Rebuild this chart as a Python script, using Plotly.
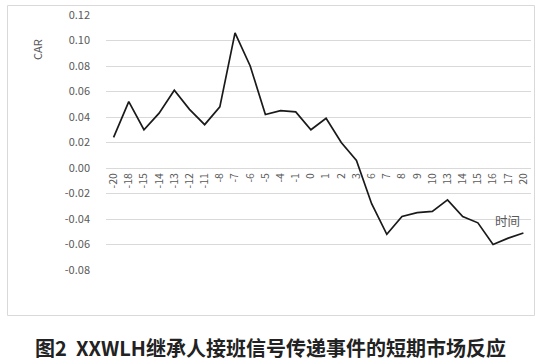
import plotly.graph_objects as go

# ---- data ----
days = ["-20", "-18", "-15", "-14", "-13", "-12", "-11", "-8", "-7", "-6", "-5", "-4", "-1",
        "0", "1", "2", "3", "6", "7", "8", "9", "10", "13", "14", "15", "16", "17", "20"]
car = [0.024, 0.052, 0.030, 0.043, 0.061, 0.046, 0.034, 0.048, 0.106, 0.080, 0.042, 0.045, 0.044,
       0.030, 0.039, 0.020, 0.006, -0.028, -0.052, -0.038, -0.035, -0.034, -0.025, -0.038, -0.043,
       -0.060, -0.055, -0.051]
y_ticks = [0.12, 0.10, 0.08, 0.06, 0.04, 0.02, 0.00, -0.02, -0.04, -0.06, -0.08]
y_tick_text = ["0.12", "0.10", "0.08", "0.06", "0.04", "0.02", "0.00", "-0.02", "-0.04", "-0.06", "-0.08"]
y_title = "CAR"
x_title = "时间"
caption = "图2  XXWLH继承人接班信号传递事件的短期市场反应"

W, H = 546, 362
L, R, T, B = 106, 15, 15, 92
PW, PH = W - L - R, H - T - B


def px(x):
    return (x - L) / PW


def py(y):
    return 1 - (y - T) / PH


GRAY = "#595959"
GRID = "#d9d9d9"
FONT = "Noto Sans CJK SC, Noto Sans, sans-serif"

fig = go.Figure()
fig.add_trace(go.Scatter(x=days, y=car, mode="lines",
                         line=dict(color="#1a1a1a", width=1.7)))

fig.update_layout(
    width=W, height=H,
    margin=dict(l=L, r=R, t=T, b=B, autoexpand=False),
    paper_bgcolor="white", plot_bgcolor="white",
    showlegend=False,
    font=dict(family=FONT, size=11, color=GRAY),
    xaxis=dict(type="category", categoryorder="array", categoryarray=days,
               range=[-0.5, len(days) - 0.5],
               anchor="free", position=0.4,
               showgrid=False, showline=False, zeroline=False, ticks="",
               tickangle=-90, ticklabelstandoff=2, tickfont=dict(size=10.5, color=GRAY)),
    yaxis=dict(range=[-0.08, 0.12], tickvals=y_ticks, ticktext=y_tick_text,
               showgrid=True, gridcolor=GRID, gridwidth=1,
               zeroline=False, showline=False, ticks="", ticklabelstandoff=15,
               tickfont=dict(size=11, color=GRAY)),
    shapes=[dict(type="rect", xref="paper", yref="paper",
                 x0=px(7.5), x1=px(534.5), y0=py(315.5), y1=py(5.5),
                 line=dict(color=GRID, width=1), layer="above")],
    annotations=[
        dict(text=y_title, xref="paper", yref="paper", x=px(37), y=py(50),
             xanchor="center", yanchor="middle",
             showarrow=False, textangle=-90, font=dict(size=11, color=GRAY)),
        dict(text=x_title, xref="paper", yref="paper", x=px(507), y=py(220),
             xanchor="center", yanchor="middle",
             showarrow=False, font=dict(size=12.5, color=GRAY)),
        dict(text="<b>" + caption + "</b>", xref="paper", yref="paper", x=px(270), y=py(347),
             xanchor="center", yanchor="middle",
             showarrow=False, font=dict(size=20, color="#222222", family=FONT)),
    ],
)

fig.write_html("out.html", config={"displayModeBar": False},
               post_script="document.body.style.margin='0';")
